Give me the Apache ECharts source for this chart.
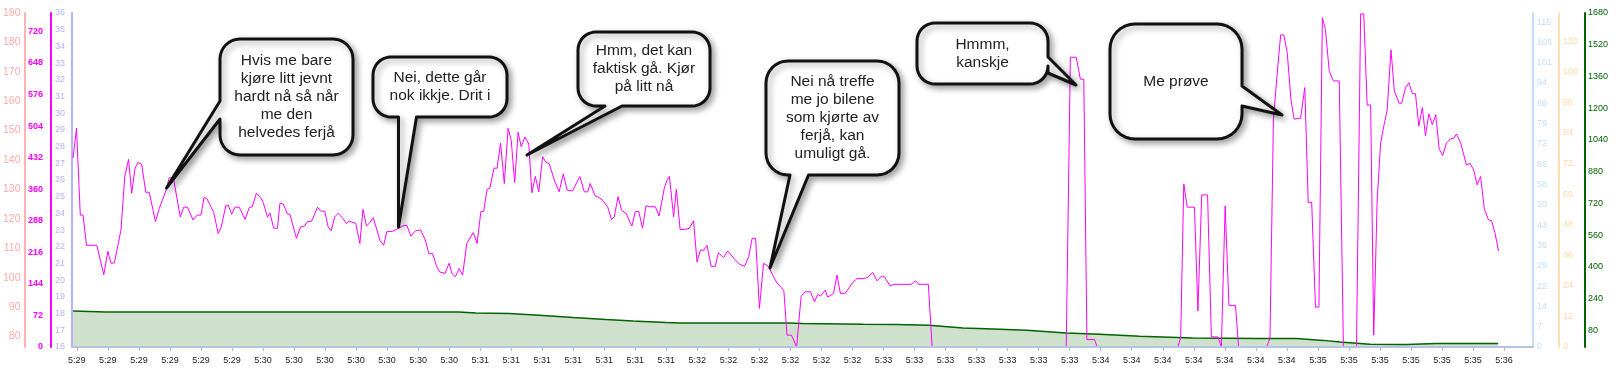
<!DOCTYPE html>
<html><head><meta charset="utf-8">
<script src="https://cdn.jsdelivr.net/npm/echarts@6/dist/echarts.min.js"></script>
<style>html,body{margin:0;padding:0;background:#fff}#c{width:1618px;height:375px}</style>
</head><body><div id="c"></div>
<script>
// seconds after 5:29:00
const powerSeconds = [
4.9,5.9,7.0,7.8,8.8,11.8,13.8,15.0,15.9,16.9,
18.8,19.9,21.0,21.9,22.9,23.7,24.8,26.0,27.0,28.8,
29.9,31.9,32.8,34.0,36.0,37.0,38.1,39.7,40.9,42.0,
42.9,43.7,45.7,47.0,47.9,49.2,49.9,50.9,51.9,53.1,
54.8,56.0,56.9,58.1,59.3,60.1,61.3,62.0,63.1,64.2,
64.9,65.9,67.1,67.8,69.7,70.9,72.0,72.9,74.1,75.8,
76.7,77.9,78.9,79.8,80.8,81.8,83.2,84.2,85.0,86.9,
88.1,89.0,90.0,90.8,92.0,93.9,95.0,95.9,97.6,99.4,
100.5,101.7,102.9,104.2,105.7,107.1,108.1,109.2,110.4,111.3,
112.8,114.0,114.8,115.8,116.9,117.9,119.1,121.0,122.1,123.2,
124.0,125.0,125.8,127.0,127.9,128.9,130.0,131.1,132.0,133.0,
134.0,134.9,136.0,137.1,138.0,139.0,140.0,141.1,142.1,143.0,
144.5,145.9,147.1,148.2,149.8,151.9,153.2,154.2,154.9,156.4,
157.5,158.5,160.0,161.1,161.9,163.0,164.0,165.3,167.0,168.0,
169.0,170.1,171.1,172.2,173.8,174.9,176.4,177.2,177.9,179.1,
179.9,181.0,182.3,183.7,184.9,185.9,186.9,187.9,188.8,190.0,
191.2,192.1,193.6,194.8,196.6,198.2,199.7,200.9,201.9,202.9,
204.0,205.2,206.7,208.1,209.1,210.3,211.1,212.0,213.3,214.8,
216.1,217.3,218.8,220.0,220.9,221.7,223.1,223.8,225.5,226.5,
227.5,229.0,230.8,232.3,234.0,235.2,236.9,238.1,239.5,240.3,
241.9,243.0,248.0,249.3,250.2,253.0,254.1,293.0,294.2,295.9,
297.1,298.1,299.0,301.2,302.0,325.4,326.2,327.1,328.1,330.2,
331.2,332.3,334.0,335.1,337.0,338.0,339.1,340.2,342.1,343.0,
351.1,352.1,353.1,354.2,355.2,356.1,357.1,358.2,359.1,361.0,
362.2,363.2,364.2,365.3,366.3,367.3,368.2,369.3,370.5,372.2,
373.4,377.2,378.4,379.3,380.3,381.3,382.2,383.2,384.2,385.2,
386.1,387.2,388.2,389.6,390.3,391.4,392.4,393.4,394.3,395.3,
396.3,397.2,398.2,399.2,400.2,401.2,402.2,403.3,404.5,405.4,
406.2,407.4,409.1,410.1,411.2,412.2,413.2,414.3,415.5,416.4,
417.4,418.4
];
const powerWatts = [
431,499,301,301,232,232,165,218,191,192,
267,389,428,351,408,421,417,353,353,286,
316,358,386,386,297,319,319,290,301,301,
341,339,307,259,274,322,324,303,319,319,
291,318,320,351,341,329,296,306,271,271,
328,326,303,303,248,274,276,286,287,319,
310,310,274,265,297,305,293,282,287,282,
236,314,276,282,295,244,232,263,264,271,
276,278,253,265,267,244,213,213,183,171,
168,191,168,160,179,164,236,261,236,309,
309,360,362,408,408,465,373,499,472,375,
490,457,479,463,352,389,354,434,421,419,
381,354,395,358,356,389,354,354,373,344,
341,335,319,291,297,343,312,305,276,309,
309,271,322,320,320,299,362,381,389,297,
360,268,268,271,288,194,221,221,232,184,
184,215,204,219,202,189,184,206,248,248,
88,191,183,160,146,136,128,27,27,0,
116,126,126,103,120,116,130,114,122,164,
122,123,145,156,156,158,170,151,162,160,
139,143,143,151,143,143,0,0,661,661,
611,611,17,17,0,0,23,372,319,319,
82,347,347,23,23,0,322,95,95,0,
0,19,518,625,712,712,672,564,520,522,
592,330,330,91,91,751,724,629,607,607,
0,0,760,760,552,552,27,335,465,507,
541,678,583,556,556,591,603,578,578,504,
546,482,532,507,530,451,437,465,475,476,
486,466,415,419,404,370,389,314,290,288,
259,219
];
const elevSeconds = [4.9,14.4,116.8,121.8,131.4,140.1,150.0,159.5,167.3,176.9,180.8,212.7,216.6,234.0,243.6,253.3,263.0,271.8,281.5,293.0,302.7,314.3,329.7,349.1,359.8,367.6,372.4,381.1,391.7,400.4,418.3];
const elevValues = [177,172,172,167,164,156,144,134,127,119,117,117,114,110,109,105,92,87,80,66,60,50,41,38,38,29,21,9,8,13,13];

const xTickSeconds = [6,15,24,33,42,51,60,69,78,87,96,105,114,123,132,141,150,159,168,177,186,195,204,213,222,231,240,249,258,267,276,285,294,303,312,321,330,339,348,357,366,375,384,393,402,411,420];
const xTickLabels = ['5:29','5:29','5:29','5:29','5:29','5:29',
  '5:30','5:30','5:30','5:30','5:30','5:30','5:30',
  '5:31','5:31','5:31','5:31','5:31','5:31','5:31',
  '5:32','5:32','5:32','5:32','5:32','5:32',
  '5:33','5:33','5:33','5:33','5:33','5:33','5:33',
  '5:34','5:34','5:34','5:34','5:34','5:34','5:34',
  '5:35','5:35','5:35','5:35','5:35','5:35','5:36'];

const pinkTicks = [80,90,100,110,120,130,140,150,160,170,180,190];
const magentaTicks = [0,72,144,216,288,360,432,504,576,648,720];
const violetTicks = [16,17,18,19,20,21,22,23,24,25,26,27,28,29,30,31,32,33,34,35,36];
const blueTicks = [0,7.2,14.4,21.6,28.8,36,43.2,50.4,57.6,64.8,72,79.2,86.4,93.6,100.8,108,115.2];
const orangeTicks = [0,12,24,36,48,60,72,84,96,108,120];
const greenTicks = [80,240,400,560,720,880,1040,1200,1360,1520,1680];

const calloutTexts = [
  ['Hvis me bare','kjøre litt jevnt','hardt nå så når','me den','helvedes ferjå'],
  ['Nei, dette går','nok ikkje. Drit i'],
  ['Hmm, det kan','faktisk gå. Kjør','på litt nå'],
  ['Nei nå treffe','me jo bilene','som kjørte av','ferjå, kan','umuligt gå.'],
  ['Hmmm,','kanskje'],
  ['Me prøve']
];
// layout of the speech bubbles (pixels)
const calloutLayout = [
  {box:[220,39,133,116,20], side:'left',   a:[101,119],   tip:[166.5,188]},
  {box:[373,57,134,60,18],  side:'bottom', a:[398.5,416.5], tip:[398.5,227]},
  {box:[578,32,132,74,18],  side:'bottom', a:[605,622],   tip:[527,155]},
  {box:[766,61,133,114,22], side:'bottom', a:[790,808.5], tip:[770,268]},
  {box:[917,23,131,61,18],  side:'right',  a:[57,73],     tip:[1076,85]},
  {box:[1110,24,132,115,25],side:'right',  a:[86,106],    tip:[1282,115]}
];

const FONT = "'Liberation Sans', Arial, sans-serif";

function bubblePoints(L) {
  const [x,y,w,h,r] = L.box; const pts = []; const N = 8;
  const arc = (cx,cy,d0,d1) => { for (let i=0;i<=N;i++){ const t=(d0+(d1-d0)*i/N)*Math.PI/180; pts.push([cx+r*Math.cos(t), cy+r*Math.sin(t)]); } };
  arc(x+r,y+r,180,270);
  arc(x+w-r,y+r,270,360);
  if (L.side==='right') pts.push([x+w,L.a[0]], L.tip, [x+w,L.a[1]]);
  arc(x+w-r,y+h-r,0,90);
  if (L.side==='bottom') pts.push([L.a[1],y+h], L.tip, [L.a[0],y+h]);
  arc(x+r,y+h-r,90,180);
  if (L.side==='left') pts.push([x,L.a[1]], L.tip, [x,L.a[0]]);
  return pts;
}

const graphics = [];
calloutLayout.forEach((L,i) => {
  const [x,y,w,h] = L.box;
  graphics.push({type:'polygon', z:100, silent:true, shape:{points:bubblePoints(L)},
    style:{fill:'#fff', stroke:'#111', lineWidth:3, lineJoin:'round',
      shadowBlur:6, shadowColor:'rgba(0,0,0,0.35)', shadowOffsetX:3, shadowOffsetY:3}});
  graphics.push({type:'text', z:101, silent:true,
    style:{text:calloutTexts[i].join('\n'), x:x+w/2, y:y+h/2, align:'center', verticalAlign:'middle',
      font:'15.5px ' + FONT, lineHeight:18, fill:'#222'}});
});

function yAx(o) {
  return {
    type:'value', position:o.pos, offset:o.off, min:o.min, max:o.max,
    axisLine:{show:true, onZero:false, lineStyle:{color:o.line, width:2}},
    axisTick:{show:false}, splitLine:{show:false},
    axisLabel:{customValues:o.ticks, color:o.label, fontSize:o.fs||9, fontFamily:FONT,
      fontWeight:o.bold?'bold':'normal', margin:o.margin, formatter:o.fmt || (v => String(v))}
  };
}

const chart = echarts.init(document.getElementById('c'), null, {renderer:'canvas'});
chart.setOption({
  animation:false,
  backgroundColor:'#fff',
  grid:{left:71, right:85, top:13, bottom:28, containLabel:false},
  xAxis:{
    type:'value', min:4.6, max:428.4, z:10,
    axisLine:{onZero:false, lineStyle:{color:'#b4c4e4', width:2}},
    axisTick:{show:true, customValues:xTickSeconds, length:4, lineStyle:{color:'#aabbdd'}},
    axisLabel:{customValues:xTickSeconds, color:'#222', fontSize:9, fontFamily:FONT, margin:9,
      formatter: v => xTickLabels[xTickSeconds.indexOf(v)]},
    splitLine:{show:false}
  },
  yAxis:[
    yAx({pos:'left', off:47, min:76.4, max:190, ticks:pinkTicks, line:'#ffb3b3', label:'#ffaaaa', fs:10.5, margin:4.5}),
    yAx({pos:'left', off:21, min:0, max:762, ticks:magentaTicks, line:'#ff00ff', label:'#ff00ff', bold:true, margin:8}),
    yAx({pos:'left', off:0, min:16, max:36, ticks:violetTicks, line:'#b3b3ff', label:'#b3b3ff', margin:7}),
    yAx({pos:'right', off:0, min:0, max:118.4, ticks:blueTicks, line:'#c6dcf6', label:'#c6dcf6', margin:4, fmt:v=>String(Math.round(v))}),
    yAx({pos:'right', off:26, min:0, max:131, ticks:orangeTicks, line:'#ffe0b3', label:'#ffd9a6', margin:4}),
    yAx({pos:'right', off:52, min:-4.4, max:1680, ticks:greenTicks, line:'#006400', label:'#006400', margin:3})
  ],
  series:[
    {type:'line', yAxisIndex:5, z:2, showSymbol:false, silent:true,
     data: elevSeconds.map((t,i)=>[t, elevValues[i]]),
     lineStyle:{color:'#006400', width:1.5}, itemStyle:{color:'#006400'},
     areaStyle:{color:'#cfe0cc', opacity:1, origin:'start'}},
    {type:'line', yAxisIndex:1, z:3, showSymbol:false, silent:true,
     data: powerSeconds.map((t,i)=>[t, powerWatts[i]]),
     lineStyle:{color:'#ff00ff', width:1}, itemStyle:{color:'#ff00ff'}}
  ],
  graphic: graphics
});
</script>
</body></html>
